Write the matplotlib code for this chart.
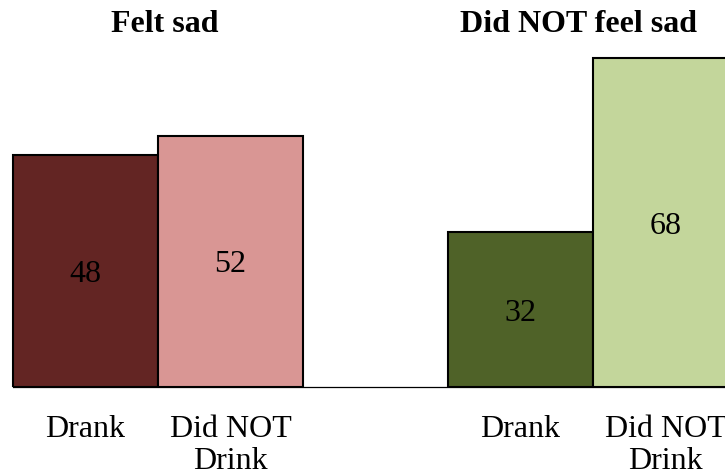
import matplotlib
matplotlib.use("Agg")
import matplotlib.pyplot as plt

categories = ["Drank", "Did NOT\nDrink", "Drank", "Did NOT\nDrink"]
values = [48, 52, 32, 68]
positions = [0, 1, 3, 4]
colors = ["#632523", "#D99694", "#4F6228", "#C3D69B"]
group_titles = ["Felt sad", "Did NOT feel sad"]
title_x = [0.548, 3.403]

plt.rcParams["font.family"] = ["Liberation Serif", "DejaVu Serif"]

W, H = 725, 473
fig = plt.figure(figsize=(W / 100, H / 100), dpi=100)
base_px = 387
ax = fig.add_axes([0, (H - base_px) / H, 1, base_px / H])
ax.set_ylim(0, base_px / 4.833)
ax.set_xlim(-0.5 - 13 / 145, -0.5 - 13 / 145 + W / 145)

bars = ax.bar(positions, values, width=1.0, color=colors, edgecolor="black",
              linewidth=1.5, zorder=3)
ax.plot([positions[0] - 0.5, ax.get_xlim()[1]], [0, 0], color="black",
        linewidth=0.9, zorder=2, clip_on=False)

for b, v in zip(bars, values):
    ax.text(b.get_x() + b.get_width() / 2, v / 2, str(v), ha="center",
            va="center_baseline", fontsize=23, zorder=4)

for tx, t in zip(title_x, group_titles):
    ax.text(tx, 1 - 25 / base_px, t, transform=ax.get_xaxis_transform(),
            ha="center", va="center", fontsize=23, fontweight="bold")

ax.set_xticks(positions)
ax.set_xticklabels(categories, fontsize=23, linespacing=1.15)
ax.tick_params(axis="x", length=0, pad=20)
ax.set_yticks([])
for s in ax.spines.values():
    s.set_visible(False)

fig.savefig("out.png", dpi=100)
